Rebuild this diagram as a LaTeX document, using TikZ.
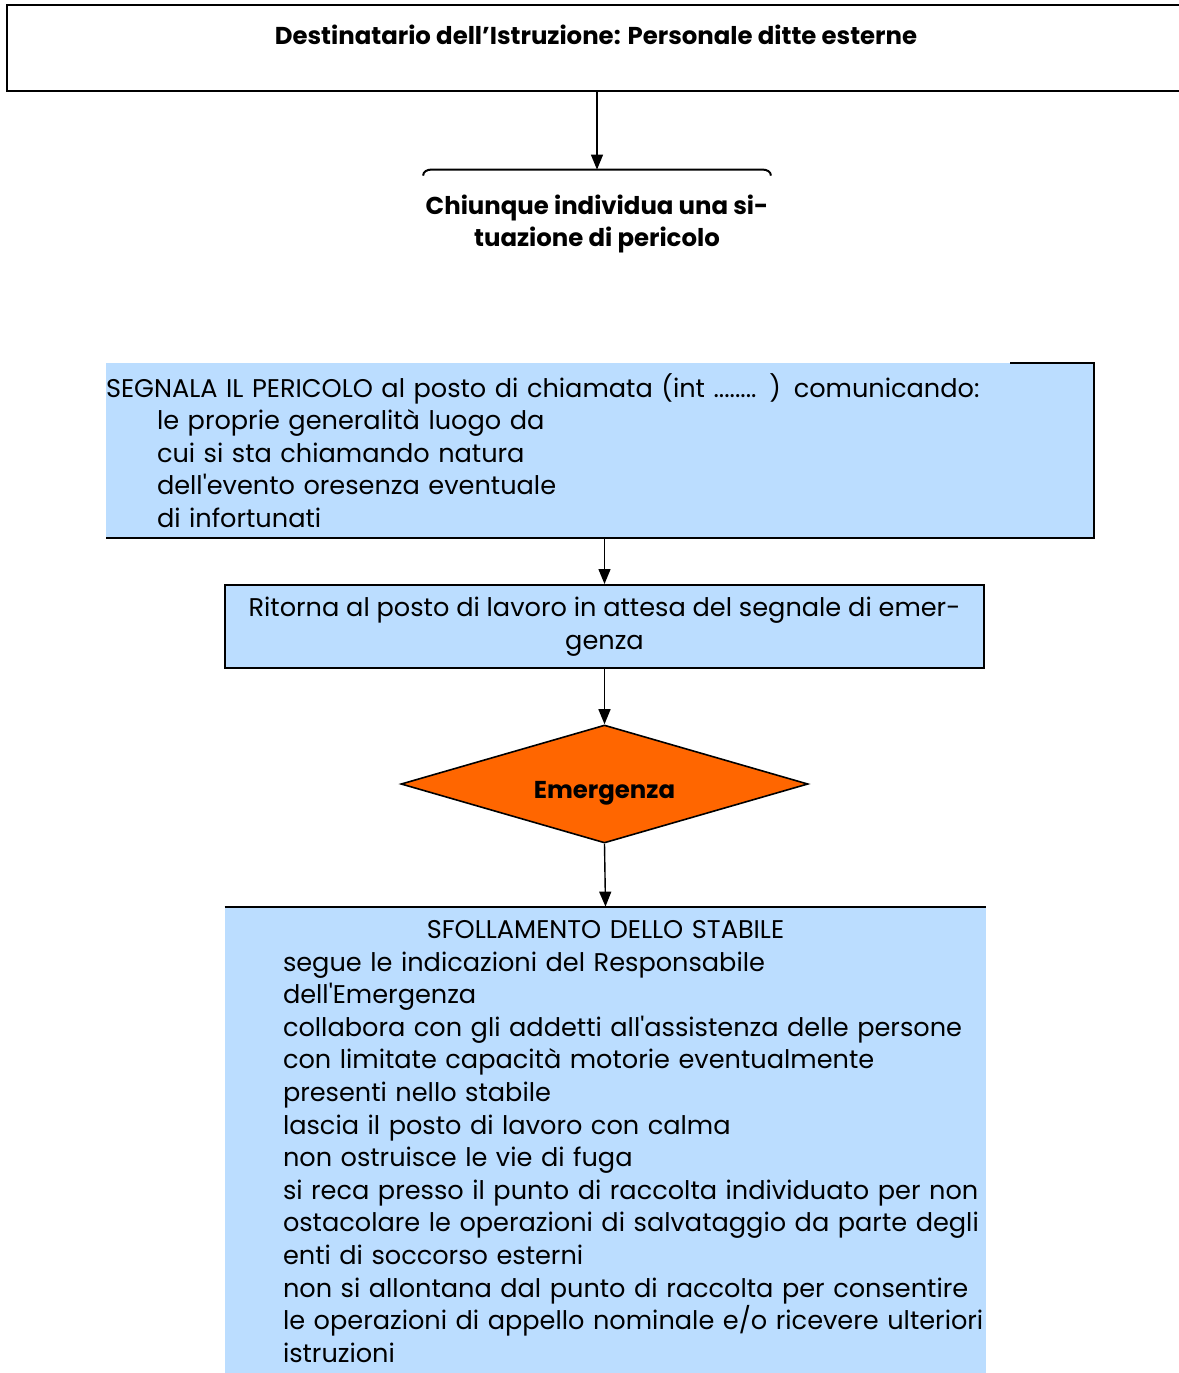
\documentclass[tikz,border=0pt]{standalone}
\usepackage{fontspec}
\setmainfont{Poppins}
\usetikzlibrary{arrows.meta}
\usetikzlibrary{shapes.geometric}
\definecolor{boxblue}{RGB}{187,221,255}
\definecolor{alarmorange}{RGB}{255,102,0}
\newcommand{\ind}{\hspace*{25.5pt}}
\newcommand{\indd}{\hspace*{29pt}}

\begin{document}
\begin{tikzpicture}[x=0.5pt,y=-0.5pt,
    flow/.style={-{Triangle[length=7.5pt,width=6pt]},line width=0.7pt},
    body/.style={font=\fontsize{12.8}{16.3}\selectfont},
    head/.style={font=\bfseries\fontsize{12.2}{16}\selectfont}]
    \useasboundingbox (0,0) rectangle (1179,1373);
    % header
    \node[draw,line width=1pt,minimum width=596.5pt,minimum height=43pt] (dest) at (603.5,48) {};
    \node[head] (destlabel) at (596,35) {Destinatario dell’Istruzione: Personale ditte esterne};
    \node[head,align=center,minimum width=173.5pt,minimum height=54pt,inner sep=0] (chi) at (597,224)
        {Chiunque individua una si-\\tuazione di pericolo};
    \draw[line width=1pt] ([yshift=-3pt]chi.north west) to[out=90,in=180] ([xshift=4pt]chi.north west)
        -- ([xshift=-4pt]chi.north east) to[out=0,in=90] ([yshift=-3pt]chi.north east);
    \draw[flow] (dest.south -| chi.north) -- (chi.north);
    % steps
    \node[body,fill=boxblue,inner sep=0,minimum width=494pt,minimum height=87.5pt,text width=494pt,align=left] (segnala) at (600,450.5)
        {SEGNALA IL PERICOLO al posto di chiamata (int ........ ) comunicando:\\
         \ind le proprie generalità luogo da\\
         \ind cui si sta chiamando natura\\
         \ind dell\textquotesingle evento oresenza eventuale\\
         \ind di infortunati};
    \draw[line width=1pt] ([xshift=-42pt]segnala.north east) -- (segnala.north east) -- (segnala.south east) -- (segnala.south west);
    \node[body,draw,line width=1pt,fill=boxblue,inner sep=0,minimum width=379.5pt,minimum height=41.5pt,align=center] (ritorna) at (604.5,626.5)
        {Ritorna al posto di lavoro in attesa del segnale di emer-\\genza};
    \draw[flow] (segnala.south -| ritorna.north) -- (ritorna.north);
    \node[head,diamond,draw,line width=0.8pt,fill=alarmorange,inner sep=0,aspect=3.45,minimum width=203.5pt,minimum height=59pt] (emerg) at (604.5,784)
        {\raisebox{-7pt}[0pt][0pt]{Emergenza}};
    \draw[flow] (ritorna.south) -- (emerg.north);
    \node[body,fill=boxblue,inner sep=0,minimum width=380.5pt,minimum height=234.5pt,text width=380.5pt,align=left] (sfoll) at (605.5,1141.5)
        {\makebox[380.5pt]{SFOLLAMENTO DELLO STABILE}\\
         \indd segue le indicazioni del Responsabile\\
         \indd dell\textquotesingle Emergenza\\
         \indd collabora con gli addetti all\textquotesingle assistenza delle persone\\
         \indd con limitate capacità motorie eventualmente\\
         \indd presenti nello stabile\\
         \indd lascia il posto di lavoro con calma\\
         \indd non ostruisce le vie di fuga\\
         \indd si reca presso il punto di raccolta individuato per non\\
         \indd ostacolare le operazioni di salvataggio da parte degli\\
         \indd enti di soccorso esterni\\
         \indd non si allontana dal punto di raccolta per consentire\\
         \indd le operazioni di appello nominale e/o ricevere ulteriori\\
         \indd istruzioni};
    \draw[line width=1pt] (sfoll.north west) -- (sfoll.north east);
    \draw[flow] (emerg.south) -- (sfoll.north);
\end{tikzpicture}
\end{document}
